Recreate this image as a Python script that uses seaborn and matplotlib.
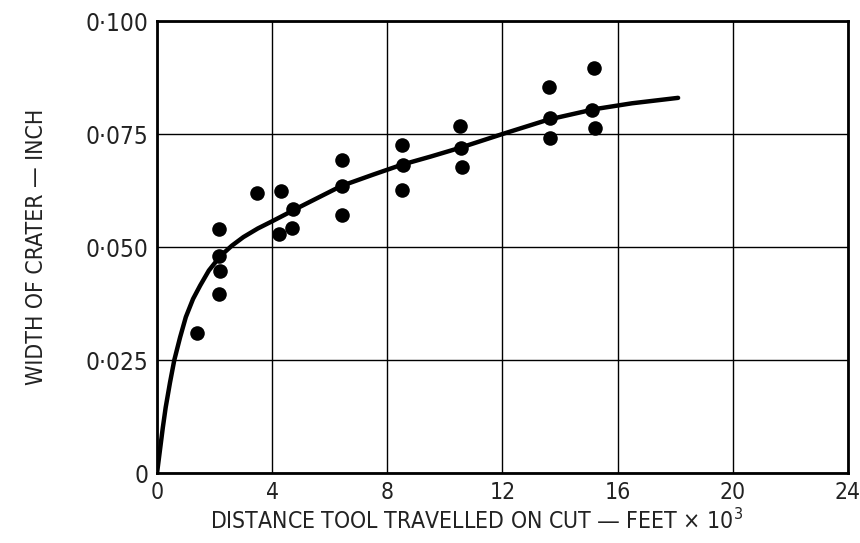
import matplotlib
matplotlib.use("Agg")
import matplotlib.pyplot as plt
import seaborn as sns
import pandas as pd

# ---- data ----
pt_x = [1.39, 2.16, 2.16, 2.18, 2.16, 3.48, 4.29, 4.71, 4.69, 4.25,
        6.42, 6.44, 6.44, 8.51, 8.53, 8.51, 10.52, 10.57, 10.59,
        13.6, 13.65, 13.65, 15.19, 15.1, 15.22]
pt_y = [0.031, 0.0539, 0.0480, 0.0448, 0.0396, 0.0619, 0.0625, 0.0583, 0.0542, 0.0529,
        0.0692, 0.0635, 0.0570, 0.0725, 0.0682, 0.0626, 0.0768, 0.0719, 0.0676,
        0.0855, 0.0785, 0.0742, 0.0897, 0.0803, 0.0764]

curve_x = [0, 0.1, 0.2, 0.3, 0.45, 0.6, 0.8, 1.0, 1.25, 1.5, 1.8, 2.2, 2.6, 3.0, 3.5,
           4.0, 5.0, 6.4, 7.5, 8.5, 9.5, 10.5, 12.0, 13.6, 15.2, 16.5, 18.1]
curve_y = [0, 0.005, 0.010, 0.0145, 0.020, 0.025, 0.030, 0.0345, 0.0385, 0.0415, 0.0448,
           0.048, 0.0503, 0.0522, 0.0541, 0.0557, 0.0590, 0.0635, 0.0660, 0.0682, 0.0700,
           0.0719, 0.0750, 0.0782, 0.0805, 0.0818, 0.0830]

x_ticks = [0, 4, 8, 12, 16, 20, 24]
x_ticklabels = ["0", "4", "8", "12", "16", "20", "24"]
y_ticks = [0, 0.025, 0.05, 0.075, 0.1]
y_ticklabels = ["0", "0·025", "0·050", "0·075", "0·100"]

x_label = "DISTANCE TOOL TRAVELLED ON CUT — FEET × 10$^3$"
y_label = "WIDTH OF CRATER — INCH"

sns.set_theme(style="white")
plt.rcParams["font.family"] = ["DejaVu Sans"]
plt.rcParams["font.stretch"] = "condensed"
plt.rcParams["mathtext.fontset"] = "dejavusans"

fig = plt.figure(figsize=(8.6, 5.43), dpi=100)
ax = fig.add_axes([0.1826, 0.1289, 0.986 - 0.1826, 0.9613 - 0.1289])

pts = pd.DataFrame({"x": pt_x, "y": pt_y})
crv = pd.DataFrame({"x": curve_x, "y": curve_y})

sns.lineplot(data=crv, x="x", y="y", ax=ax, color="black", linewidth=3.2,
             sort=False, estimator=None, zorder=3)
sns.scatterplot(data=pts, x="x", y="y", ax=ax, color="black", s=110,
                edgecolor="black", linewidth=0, zorder=4)

ax.set_xlim(0, 24)
ax.set_ylim(0, 0.1)
ax.set_xticks(x_ticks)
ax.set_xticklabels(x_ticklabels)
ax.set_yticks(y_ticks)
ax.set_yticklabels(y_ticklabels)
ax.grid(True, color="black", linewidth=1.0)
ax.set_axisbelow(True)
for s in ax.spines.values():
    s.set_visible(True)
    s.set_color("black")
    s.set_linewidth(2)
ax.tick_params(axis="y", length=0, labelsize=17.5, colors="#222222", pad=6)
ax.tick_params(axis="x", length=0, labelsize=16.5, colors="#222222", pad=6)
ax.set_xlabel(x_label, fontsize=16.5, color="#222222", labelpad=3)
ax.xaxis.label.set_x(0.463)
ax.set_ylabel(y_label, fontsize=16.5, color="#222222", labelpad=27)

fig.savefig("out.png", dpi=100)
